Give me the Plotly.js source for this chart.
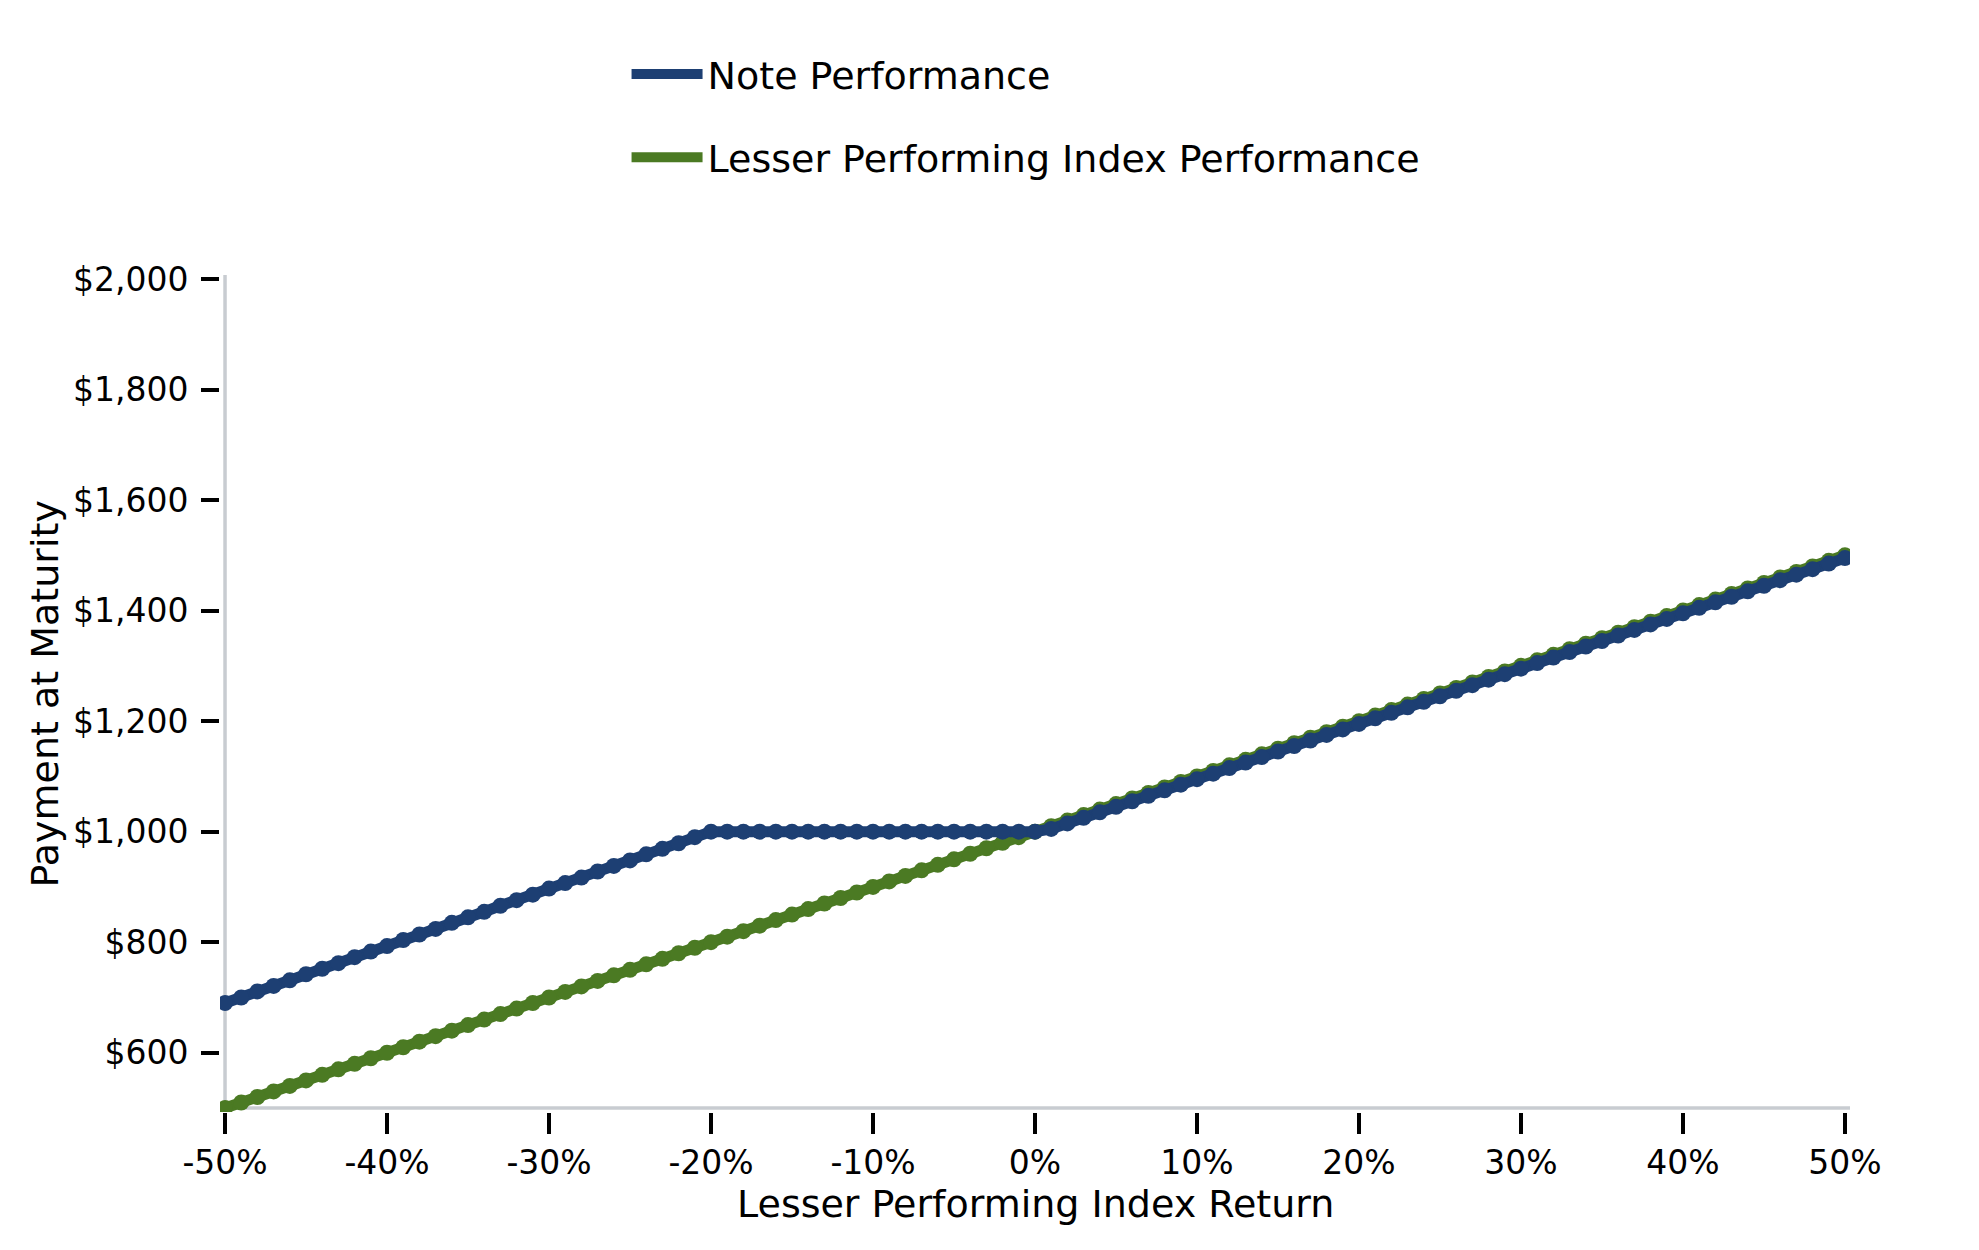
<!DOCTYPE html>
<html>
<head>
<meta charset="utf-8">
<script src="https://cdn.plot.ly/plotly-3.0.1.min.js"></script>
<style>html,body{margin:0;padding:0;background:#fff;}#chart{width:1979px;height:1250px;}</style>
</head>
<body>
<div id="chart"></div>
<script>
// Lesser Performing Index Return (%)
const indexReturn = [-50,-49,-48,-47,-46,-45,-44,-43,-42,-41,-40,-39,-38,-37,-36,-35,-34,-33,-32,-31,-30,-29,-28,-27,-26,-25,-24,-23,-22,-21,-20,-19,-18,-17,-16,-15,-14,-13,-12,-11,-10,-9,-8,-7,-6,-5,-4,-3,-2,-1,0,1,2,3,4,5,6,7,8,9,10,11,12,13,14,15,16,17,18,19,20,21,22,23,24,25,26,27,28,29,30,31,32,33,34,35,36,37,38,39,40,41,42,43,44,45,46,47,48,49,50];

// Note Performance (payment at maturity, $)
const notePerformance = [690,700,711,721,731,742,752,762,773,783,793,804,814,824,835,845,855,866,876,886,897,907,917,928,938,948,959,969,979,990,1000,1000,1000,1000,1000,1000,1000,1000,1000,1000,1000,1000,1000,1000,1000,1000,1000,1000,1000,1000,1000,1005,1015,1025,1035,1045,1055,1065,1075,1085,1095,1105,1115,1125,1135,1145,1155,1165,1175,1185,1195,1205,1215,1225,1235,1245,1255,1265,1275,1285,1295,1305,1315,1325,1335,1345,1355,1365,1375,1385,1395,1405,1415,1425,1435,1445,1455,1465,1475,1485,1495];

// Lesser Performing Index Performance ($)
const indexPerformance = [500,510,520,530,540,550,560,570,580,590,600,610,620,630,640,650,660,670,680,690,700,710,720,730,740,750,760,770,780,790,800,810,820,830,840,850,860,870,880,890,900,910,920,930,940,950,960,970,980,990,1000,1010,1020,1030,1040,1050,1060,1070,1080,1090,1100,1110,1120,1130,1140,1150,1160,1170,1180,1190,1200,1210,1220,1230,1240,1250,1260,1270,1280,1290,1300,1310,1320,1330,1340,1350,1360,1370,1380,1390,1400,1410,1420,1430,1440,1450,1460,1470,1480,1490,1500];

const xTickVals = [-50,-40,-30,-20,-10,0,10,20,30,40,50];
const xTickText = ['-50%','-40%','-30%','-20%','-10%','0%','10%','20%','30%','40%','50%'];
const yTickVals = [600,800,1000,1200,1400,1600,1800,2000];
const yTickText = ['$600','$800','$1,000','$1,200','$1,400','$1,600','$1,800','$2,000'];

const seriesNames = ['Note Performance','Lesser Performing Index Performance'];
const xTitle = 'Lesser Performing Index Return';
const yTitle = 'Payment at Maturity';

const BLUE = '#1d3f73';
const GREEN = '#4b7a23';
const FONT = 'DejaVu Sans, sans-serif';

const traces = [
  {x: indexReturn, y: indexPerformance, type: 'scatter', mode: 'lines', name: seriesNames[1],
   line: {color: GREEN, width: 11}, legendgroup: 'g', legendrank: 2, hoverinfo: 'skip'},
  {x: indexReturn, y: indexPerformance, type: 'scatter', mode: 'markers', name: seriesNames[1],
   marker: {color: GREEN, size: 16}, legendgroup: 'g', showlegend: false},
  {x: indexReturn, y: notePerformance, type: 'scatter', mode: 'lines', name: seriesNames[0],
   line: {color: BLUE, width: 11}, legendgroup: 'b', legendrank: 1, hoverinfo: 'skip'},
  {x: indexReturn, y: notePerformance, type: 'scatter', mode: 'markers', name: seriesNames[0],
   marker: {color: BLUE, size: 16}, legendgroup: 'b', showlegend: false}
];

const AXIS_GRAY = '#c8ccd1';
const titleFont = {family: FONT, size: 38, color: '#000000'};

const layout = {
  width: 1979, height: 1250,
  paper_bgcolor: '#ffffff', plot_bgcolor: '#ffffff',
  margin: {l: 220, r: 129, t: 275, b: 138, pad: 0, autoexpand: false},
  font: {family: FONT, color: '#000000', size: 33},
  showlegend: true,
  legend: {
    xref: 'container', yref: 'container',
    x: 0.3166, y: 0.9658, xanchor: 'left', yanchor: 'top',
    font: {family: FONT, size: 38, color: '#000000'},
    traceorder: 'grouped', tracegroupgap: 31,
    itemwidth: 71, bgcolor: 'rgba(0,0,0,0)', borderwidth: 0
  },
  xaxis: {
    range: [-50.31, 50.31], fixedrange: true,
    tickmode: 'array', tickvals: xTickVals, ticktext: xTickText, tickangle: 0,
    ticks: 'outside', ticklen: 21, tickwidth: 4, tickcolor: '#000000',
    tickfont: {family: FONT, size: 33, color: '#000000'},
    showline: false, showgrid: false, zeroline: false, automargin: false
  },
  yaxis: {
    range: [492.8, 2007.2], fixedrange: true,
    tickmode: 'array', tickvals: yTickVals, ticktext: yTickText,
    ticks: 'outside', ticklen: 18, tickwidth: 4, tickcolor: '#000000', ticklabelstandoff: 6,
    tickfont: {family: FONT, size: 33, color: '#000000'},
    showline: false, showgrid: false, zeroline: false, automargin: false
  },
  annotations: [
    {text: xTitle, xref: 'paper', yref: 'paper', x: 0.5, y: -0.1099, xanchor: 'center', yanchor: 'middle',
     showarrow: false, font: titleFont},
    {text: yTitle, xref: 'paper', yref: 'paper', x: -0.1074, y: 0.5, xanchor: 'center', yanchor: 'middle',
     textangle: -90, showarrow: false, font: titleFont}
  ],
  shapes: [
    {type: 'line', layer: 'below', xref: 'x', yref: 'y', x0: -50, x1: -50, y0: 500, y1: 2007.2,
     line: {color: AXIS_GRAY, width: 3.5}},
    {type: 'line', layer: 'below', xref: 'x', yref: 'y', x0: -50, x1: 50.31, y0: 500, y1: 500,
     line: {color: AXIS_GRAY, width: 3.5}}
  ]
};

Plotly.newPlot('chart', traces, layout, {displayModeBar: false, staticPlot: true});
</script>
</body>
</html>
